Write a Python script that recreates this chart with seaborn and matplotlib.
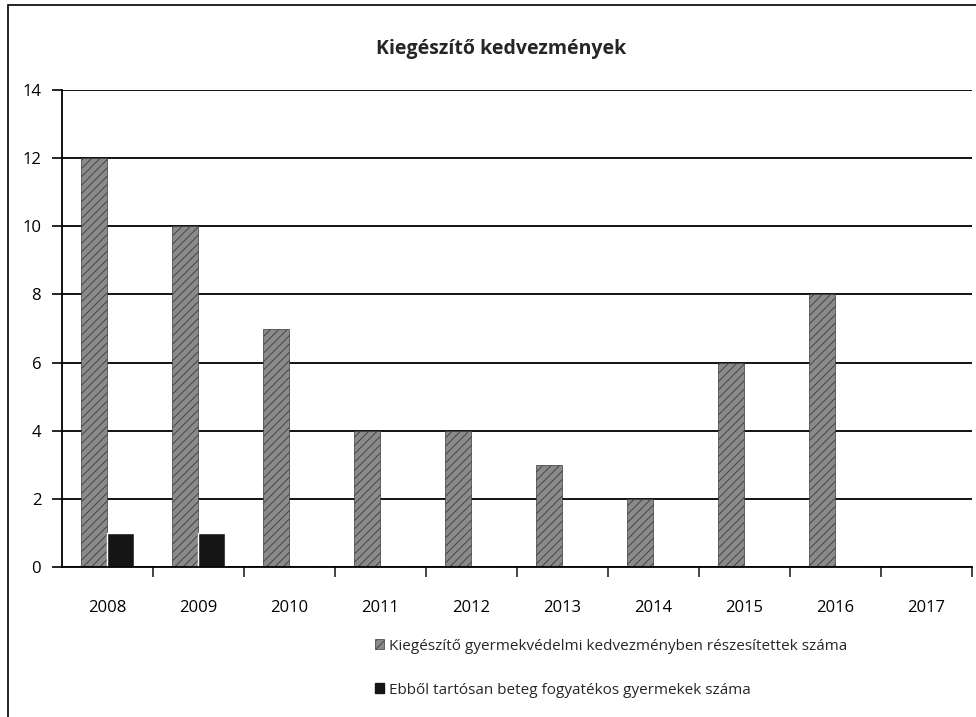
import matplotlib
matplotlib.use("Agg")
import matplotlib.pyplot as plt
import seaborn as sns
import pandas as pd
from matplotlib.patches import Rectangle, Patch

years = ["2008", "2009", "2010", "2011", "2012", "2013", "2014", "2015", "2016", "2017"]
series_names = ["Kiegészítő gyermekvédelmi kedvezményben részesítettek száma",
                "Ebből tartósan beteg fogyatékos gyermekek száma"]
s1 = [12, 10, 7, 4, 4, 3, 2, 6, 8, 0]
s2 = [1, 1, 0, 0, 0, 0, 0, 0, 0, 0]
yticks = [0, 2, 4, 6, 8, 10, 12, 14]
title = "Kiegészítő kedvezmények"

df = pd.DataFrame({
    "year": years * 2,
    "value": s1 + s2,
    "series": [series_names[0]] * len(years) + [series_names[1]] * len(years),
})

sns.set_theme(style="white")
plt.rcParams["font.family"] = ["Liberation Sans Narrow", "Open Sans", "DejaVu Sans"]
plt.rcParams["hatch.color"] = "#3a3a3a"
plt.rcParams["hatch.linewidth"] = 0.6

fig = plt.figure(figsize=(9.76, 7.17), dpi=100)
ax = fig.add_axes([0.0635, 0.209, 0.932, 0.6655])

colors = ["#8a8a8a", "#151515"]
sns.barplot(data=df, x="year", y="value", hue="series", palette=colors,
            width=0.58, ax=ax, legend=False, saturation=1)

for i, bar in enumerate(ax.patches):
    if i < len(years):
        bar.set_hatch("////")
        bar.set_edgecolor("#3a3a3a")
        bar.set_linewidth(0.5)

ax.set_xlim(-0.5, len(years) - 0.5)
ax.set_ylim(0, 14)
ax.set_yticks(yticks)
ax.yaxis.grid(True, color="black", linewidth=1.3)
ax.set_axisbelow(True)
for sp in ["top", "right"]:
    ax.spines[sp].set_visible(False)
for sp in ["left", "bottom"]:
    ax.spines[sp].set_color("black")
    ax.spines[sp].set_linewidth(1.3)
ax.set_xlabel("")
ax.set_ylabel("")
ax.tick_params(axis="x", length=0, pad=24, labelsize=12, colors="black")
ax.tick_params(axis="y", length=7, width=1.2, direction="out", left=True,
               pad=8, labelsize=12, colors="black")
ax.set_xticks([k + 0.5 for k in range(len(years) - 1)] + [len(years) - 0.5], minor=True)
ax.tick_params(axis="x", which="minor", length=7, width=1.2, direction="out", bottom=True)

fig.text(0.513, 0.931, title, ha="center", va="center", fontsize=14, fontweight="bold")

handles = [Patch(facecolor=colors[0], hatch="////", edgecolor="#3a3a3a", linewidth=0.5),
           Patch(facecolor=colors[1], edgecolor="#151515")]
fig.legend(handles, series_names, loc="upper left", bbox_to_anchor=(0.378, 0.118),
           frameon=False, fontsize=11, handlelength=0.6, handleheight=0.6,
           handletextpad=0.3, labelspacing=1.9, borderaxespad=0)

fig.patches.append(Rectangle((8 / 976, -0.1), 1.2, 1.1 - 5 / 717, transform=fig.transFigure,
                             fill=False, edgecolor="black", linewidth=1.2))

fig.savefig("out.png", dpi=100)
